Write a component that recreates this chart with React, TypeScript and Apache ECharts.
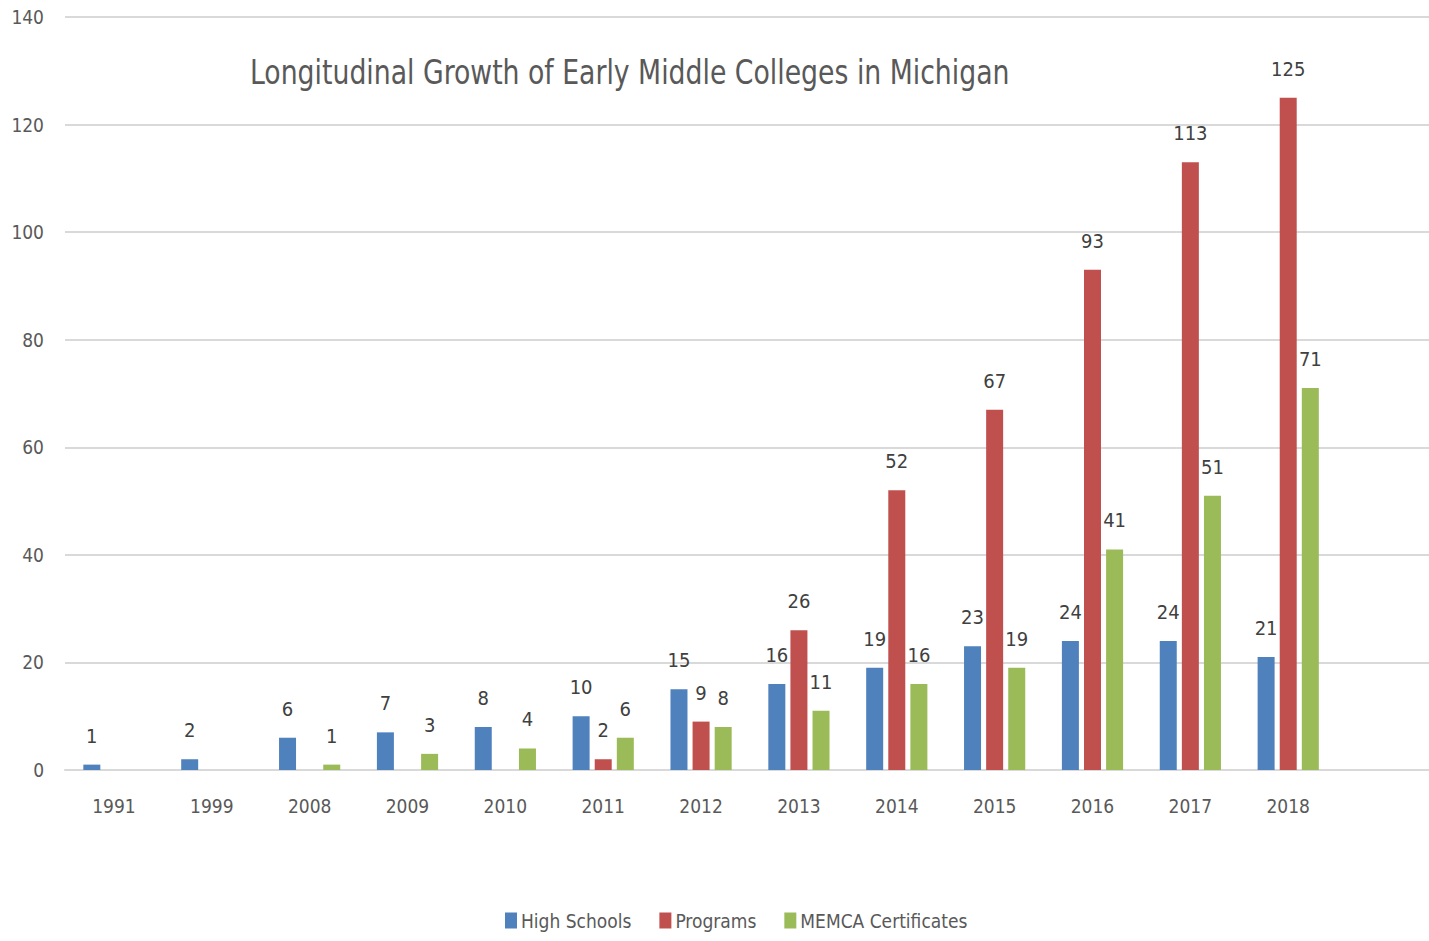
import React, { useEffect, useRef } from "react";
import * as echarts from "echarts";

const years = ["1991", "1999", "2008", "2009", "2010", "2011", "2012", "2013", "2014", "2015", "2016", "2017", "2018", ""];
const highSchools = [1, 2, 6, 7, 8, 10, 15, 16, 19, 23, 24, 24, 21, null];
const programs = [null, null, null, null, null, 2, 9, 26, 52, 67, 93, 113, 125, null];
const memca = [null, null, 1, 3, 4, 6, 8, 11, 16, 19, 41, 51, 71, null];
const seriesNames = ["High Schools", "Programs", "MEMCA Certificates"];
const colors = ["#4F81BD", "#C0504D", "#9BBB59"];
const titleText = "Longitudinal Growth of Early Middle Colleges in Michigan";

const FONT = "'DejaVu Sans Condensed', 'Liberation Sans Narrow', sans-serif";

export default function App() {
  const ref = useRef<HTMLDivElement>(null);
  useEffect(() => {
    if (!ref.current) return;
    const chart = echarts.init(ref.current, null, { renderer: "svg" });
    const label = {
      show: true,
      position: "top",
      distance: 19,
      color: "#404040",
      fontSize: 20,
      fontFamily: FONT,
    };
    const mk = (i: number, data: (number | null)[]) => ({
      name: seriesNames[i],
      type: "bar",
      data: data.map((v) => (v === null ? "-" : v)),
      barWidth: 17,
      barGap: "30%",
      itemStyle: { color: colors[i] },
      label,
    });
    chart.setOption({
      animation: false,
      backgroundColor: "#ffffff",
      graphic: [
        {
          type: "text",
          x: 250,
          y: 72,
          scaleX: 0.9,
          style: {
            text: titleText,
            fontFamily: FONT,
            fontSize: 33,
            fill: "#595959",
            textVerticalAlign: "middle",
            verticalAlign: "middle",
          },
        },
      ],
      legend: {
        bottom: 6,
        left: 500,
        itemWidth: 12,
        itemHeight: 16,
        itemGap: 28,
        icon: "rect",
        textStyle: { fontFamily: FONT, fontSize: 19, color: "#595959", padding: [0, 0, 0, -1] },
        data: seriesNames,
      },
      grid: {
        left: 65,
        right: -6,
        top: 17,
        bottom: 171,
        containLabel: false,
        outerBoundsMode: "none",
      },
      xAxis: {
        type: "category",
        data: years,
        axisLine: { show: true, lineStyle: { color: "#d9d9d9", width: 2 } },
        axisTick: { show: false },
        axisLabel: { fontFamily: FONT, fontSize: 19, color: "#595959", margin: 26 },
      },
      yAxis: {
        type: "value",
        min: 0,
        max: 140,
        interval: 20,
        axisLine: { show: false },
        axisTick: { show: false },
        axisLabel: { fontFamily: FONT, fontSize: 19, color: "#595959", margin: 21 },
        splitLine: { lineStyle: { color: "#d9d9d9", width: 2 } },
      },
      series: [mk(0, highSchools), mk(1, programs), mk(2, memca)],
    });
    return () => chart.dispose();
  }, []);
  return (
    <div
      ref={ref}
      style={{ position: "fixed", left: 0, top: 0, width: 1429, height: 941 }}
    />
  );
}
